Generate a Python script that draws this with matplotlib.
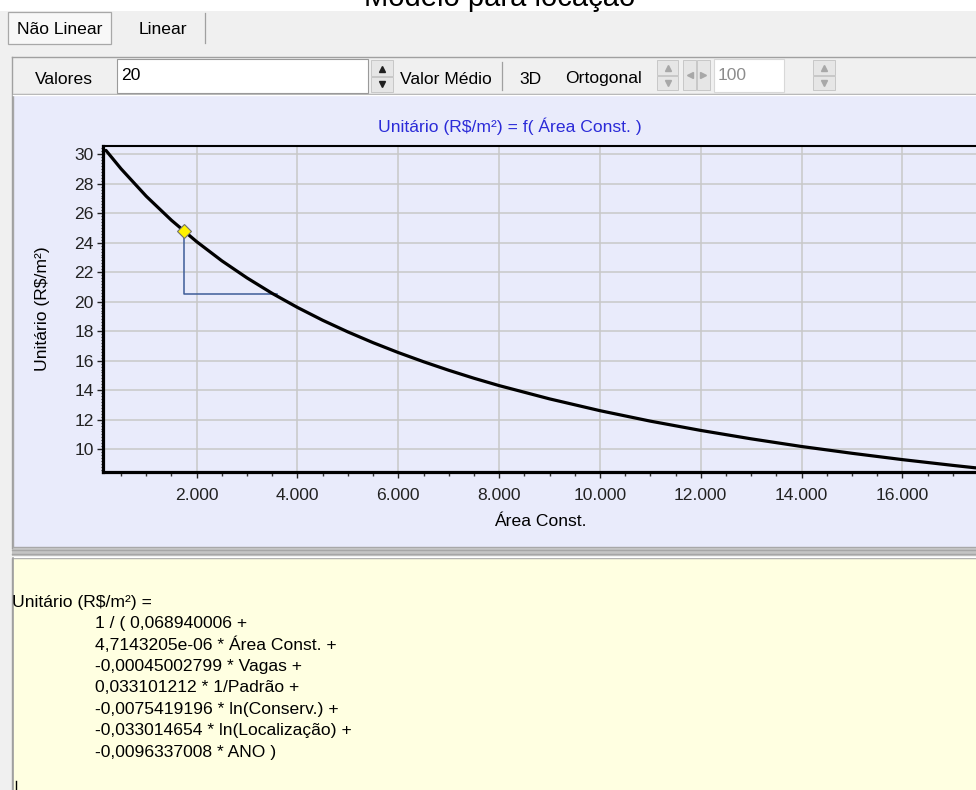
"""Modelo para locação: Unitário (R$/m²) as a function of Área Const., drawn
as the regression-software screen it came from (tabs, toolbar, chart panel
and the fitted equation below it)."""

import matplotlib

matplotlib.use("Agg")

import matplotlib.pyplot as plt  # noqa: E402
from matplotlib.lines import Line2D  # noqa: E402
from matplotlib.patches import Rectangle  # noqa: E402
from matplotlib.ticker import FuncFormatter, MultipleLocator  # noqa: E402

# curve (Área Const. in m², Unitário in R$/m²)
area = [200, 500, 1000, 1500, 2000, 2500, 3000, 3500, 4000, 4500, 5000,
        5500, 6000, 6500, 7000, 7500, 8000, 9000, 10000, 11000, 12000,
        13000, 14000, 15000, 16000, 17000, 17460]
unitario = [30.26, 29.01, 27.15, 25.52, 24.07, 22.77, 21.61, 20.56, 19.61,
            18.74, 17.95, 17.22, 16.55, 15.93, 15.35, 14.81, 14.31, 13.41,
            12.61, 11.90, 11.27, 10.70, 10.18, 9.72, 9.29, 8.90, 8.73]

# highlighted point and its projection
ponto_area = 1754
ponto_valor = 24.80
proj_valor = 20.50
proj_area = 3587

x_ticks = [2000, 4000, 6000, 8000, 10000, 12000, 14000, 16000]
y_ticks = [10, 12, 14, 16, 18, 20, 22, 24, 26, 28, 30]

equacao = [
    "1 / ( 0,068940006 +",
    "4,7143205e-06 * Área Const. +",
    "-0,00045002799 * Vagas +",
    "0,033101212 * 1/Padrão +",
    "-0,0075419196 * ln(Conserv.) +",
    "-0,033014654 * ln(Localização) +",
    "-0,0096337008 * ANO )",
]

W, H = 976, 790
FS = 12.6          # ~17.5 px UI font
LAVENDER = "#E9EBFB"
YELLOW = "#FFFFE1"
UI_BG = "#F0F0F0"

plt.rcParams["font.family"] = ["Liberation Sans", "DejaVu Sans"]

fig = plt.figure(figsize=(W / 100, H / 100), dpi=100)
fig.patch.set_facecolor(UI_BG)


def fx(x):
    return x / W


def fy(y):
    return 1 - y / H


def rect(x0, y0, x1, y1, fc, ec="none", lw=0.0, z=0):
    fig.add_artist(Rectangle((fx(x0), fy(y1)), (x1 - x0) / W, (y1 - y0) / H,
                             transform=fig.transFigure, facecolor=fc,
                             edgecolor=ec, linewidth=lw, zorder=z))


def hline(x0, x1, y, color, lw=0.72, z=1):
    fig.add_artist(Line2D([fx(x0), fx(x1)], [fy(y), fy(y)], color=color,
                          lw=lw, transform=fig.transFigure, zorder=z))


def vline(x, y0, y1, color, lw=0.72, z=1):
    fig.add_artist(Line2D([fx(x), fx(x)], [fy(y0), fy(y1)], color=color,
                          lw=lw, transform=fig.transFigure, zorder=z))


def arrow(x, y, marker, color, size=4.0):
    fig.add_artist(Line2D([fx(x)], [fy(y)], marker=marker, color=color,
                          markersize=size, linestyle="none",
                          transform=fig.transFigure, zorder=3))


def label(x, y, s, ha="left", color="black", size=FS, **kw):
    fig.text(fx(x), fy(y), s, ha=ha, va="center", color=color,
             fontsize=size, **kw)


def spinner(x0, x1, y0, y1, color):
    rect(x0, y0, x1, (y0 + y1) / 2 - 0.5, "#E6E6E6", "#C8C8C8", 0.72, 2)
    rect(x0, (y0 + y1) / 2 + 0.5, x1, y1, "#E6E6E6", "#C8C8C8", 0.72, 2)
    xc = (x0 + x1) / 2
    arrow(xc, y0 + (y1 - y0) * 0.27, "^", color)
    arrow(xc, y0 + (y1 - y0) * 0.75, "v", color)


# window title, cut at the top edge
rect(0, 0, W, 11, "white")
fig.text(fx(500), fy(6), "Modelo para locação", ha="center", va="baseline",
         fontsize=21)

# tabs
rect(8, 12, 111, 44, "#F8F8F8", "#A8A8A8", 0.9, 2)
label(60, 30, "Não Linear", ha="center")
vline(205, 13, 43, "#A0A0A0", 0.9)
label(163, 29, "Linear", ha="center")

# toolbar
hline(12, W, 57, "#A0A0A0", 1.0)
vline(12, 57, 548, "#A0A0A0", 1.0)
label(64, 79, "Valores", ha="center")
rect(117, 59, 368, 93, "white", "#9A9A9A", 0.8, 2)
label(121, 75, "20")
spinner(371, 393, 60, 92, "#202020")
label(400, 79, "Valor Médio")
vline(502, 62, 90, "#A0A0A0", 0.9)
label(519, 79, "3D")
label(565, 79, "Ortogonal")
spinner(657, 678, 60, 90, "#A8A8A8")
rect(683, 60, 696, 90, "#E6E6E6", "#C8C8C8", 0.72, 2)
rect(697, 60, 710, 90, "#E6E6E6", "#C8C8C8", 0.72, 2)
arrow(690, 75, "<", "#A8A8A8")
arrow(703, 75, ">", "#A8A8A8")
rect(714, 59, 784, 92, "white", "#D8D8D8", 0.8, 2)
label(718, 75, "100", color="#8C8C8C")
spinner(813, 835, 60, 90, "#A8A8A8")

# chart panel
rect(13, 94, W + 5, 547, LAVENDER, "#A8A8A8", 1.0)
hline(13, W, 94.5, "white", 1.0, 2)

# splitter between chart and equation
rect(12, 548, W, 556, "#C4C4C4")
hline(12, W, 549.5, "#A6A6A6", 1.0, 2)
hline(12, W, 553.5, "#A6A6A6", 1.0, 2)
hline(12, W, 556.5, "white", 1.0, 2)

# equation panel
rect(12, 558, W + 5, H + 5, YELLOW, "#A0A0A0", 1.0)
vline(12.5, 558, H, "#A0A0A0", 1.2, 2)

# chart
ax = fig.add_axes([fx(103), fy(472), (976 - 103) / W, (472 - 146) / H])
ax.set_facecolor(LAVENDER)
ax.plot(area, unitario, color="black", lw=2.3, solid_capstyle="round",
        solid_joinstyle="round", zorder=3)
ax.plot([ponto_area, ponto_area, proj_area],
        [ponto_valor, proj_valor, proj_valor],
        color="#3D5C98", lw=1.1, zorder=2)
ax.plot([ponto_area], [ponto_valor], marker="D", markersize=7.5,
        markerfacecolor="#FFF200", markeredgecolor="#707070",
        markeredgewidth=0.8, zorder=4)

ax.set_xlim(141, 17462)
ax.set_ylim(8.45, 30.56)
ax.set_xticks(x_ticks)
ax.set_yticks(y_ticks)
ax.xaxis.set_minor_locator(MultipleLocator(500))
ax.yaxis.set_minor_locator(MultipleLocator(0.2))
ax.xaxis.set_major_formatter(FuncFormatter(lambda v, _: f"{int(v):,}".replace(",", ".")))
ax.grid(True, which="major", color="#C8C8C8", lw=1.1, zorder=0)
ax.set_axisbelow(True)

ax.spines["right"].set_visible(False)
ax.spines["left"].set_linewidth(2.3)
ax.spines["bottom"].set_linewidth(2.3)
ax.spines["top"].set_linewidth(1.5)
ax.tick_params(axis="x", which="major", length=4.5, width=1.0, pad=7,
               labelsize=FS, colors="#222222")
ax.tick_params(axis="x", which="minor", length=3.0, width=1.0, colors="#333333")
ax.tick_params(axis="y", which="major", length=4.5, width=1.0, pad=2,
               labelsize=FS, colors="#222222")
ax.tick_params(axis="y", which="minor", length=1.8, width=0.8, colors="#333333")

label(510, 126, "Unitário (R$/m²) = f( Área Const. )", ha="center",
      color="#2B2BD8")
label(540, 522, "Área Const.", ha="center")
fig.text(fx(43), fy(309), "Unitário (R$/m²)", rotation=90, ha="center",
         va="center", fontsize=FS)

# fitted equation
label(12, 602, "Unitário (R$/m²) =")
for i, linha in enumerate(equacao):
    label(95, 623.5 + 21.5 * i, linha)
vline(16, 781, H, "black", 1.0, 3)

fig.savefig("out.png", dpi=100, facecolor=fig.get_facecolor())
plt.close(fig)
